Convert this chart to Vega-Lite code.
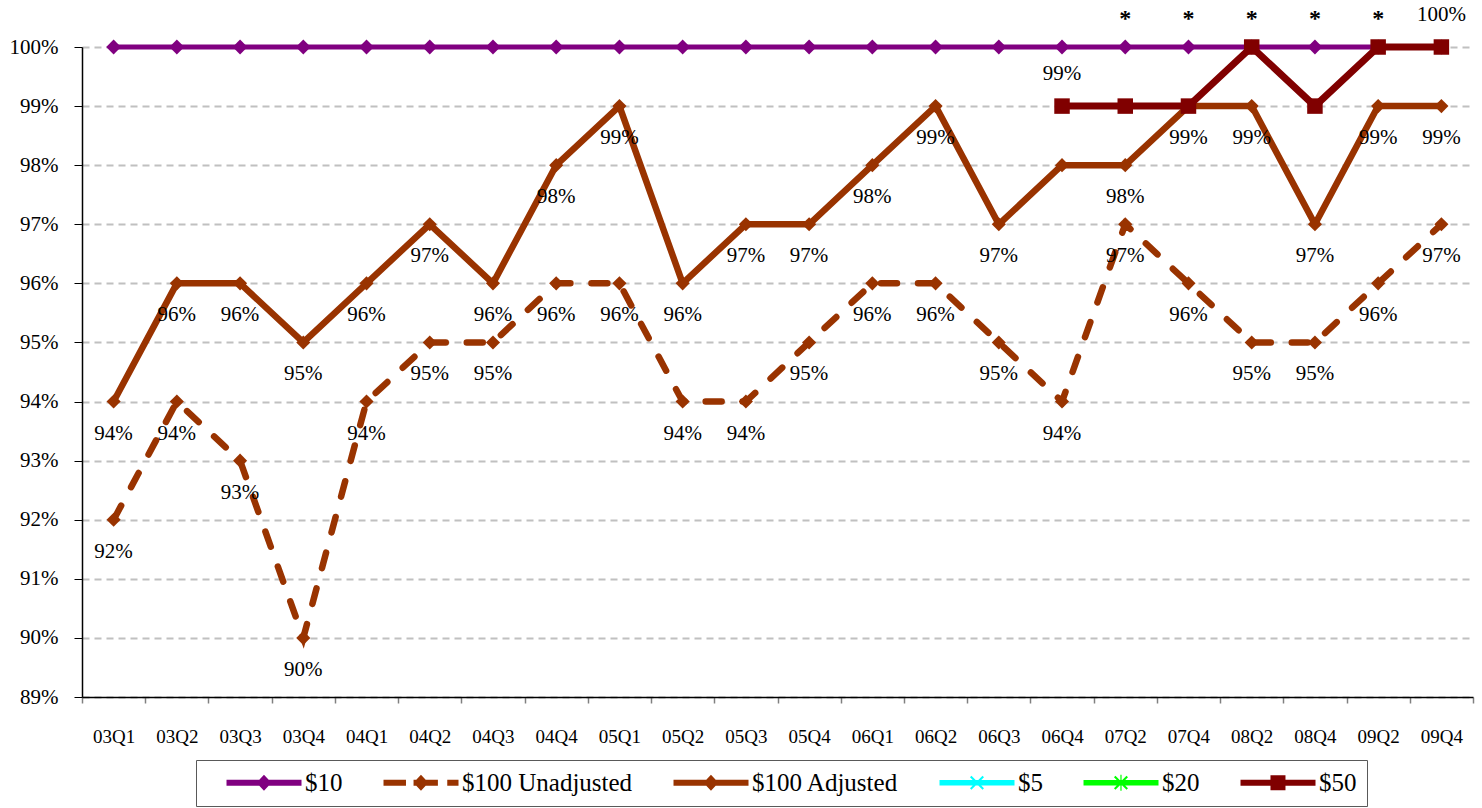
{
  "$schema": "https://vega.github.io/schema/vega-lite/v6.json",
  "width": 1391,
  "height": 650,
  "autosize": "none",
  "padding": {"left": 82, "top": 47, "right": 9, "bottom": 111},
  "background": "white",
  "config": {"font": "Liberation Serif", "view": {"stroke": null}},
  "data": {"values": [
    {"q":"03Q1","s":"$10","v":1,"t":""},{"q":"03Q2","s":"$10","v":1,"t":""},{"q":"03Q3","s":"$10","v":1,"t":""},{"q":"03Q4","s":"$10","v":1,"t":""},
    {"q":"04Q1","s":"$10","v":1,"t":""},{"q":"04Q2","s":"$10","v":1,"t":""},{"q":"04Q3","s":"$10","v":1,"t":""},{"q":"04Q4","s":"$10","v":1,"t":""},
    {"q":"05Q1","s":"$10","v":1,"t":""},{"q":"05Q2","s":"$10","v":1,"t":""},{"q":"05Q3","s":"$10","v":1,"t":""},{"q":"05Q4","s":"$10","v":1,"t":""},
    {"q":"06Q1","s":"$10","v":1,"t":""},{"q":"06Q2","s":"$10","v":1,"t":""},{"q":"06Q3","s":"$10","v":1,"t":""},{"q":"06Q4","s":"$10","v":1,"t":""},
    {"q":"07Q2","s":"$10","v":1,"t":""},{"q":"07Q4","s":"$10","v":1,"t":""},{"q":"08Q2","s":"$10","v":1,"t":""},{"q":"08Q4","s":"$10","v":1,"t":""},
    {"q":"09Q2","s":"$10","v":1,"t":""},{"q":"09Q4","s":"$10","v":1,"t":""},

    {"q":"03Q1","s":"$100 Unadjusted","v":0.92,"t":"92%"},{"q":"03Q2","s":"$100 Unadjusted","v":0.94,"t":"94%"},
    {"q":"03Q3","s":"$100 Unadjusted","v":0.93,"t":"93%"},{"q":"03Q4","s":"$100 Unadjusted","v":0.90,"t":"90%"},
    {"q":"04Q1","s":"$100 Unadjusted","v":0.94,"t":"94%"},{"q":"04Q2","s":"$100 Unadjusted","v":0.95,"t":"95%"},
    {"q":"04Q3","s":"$100 Unadjusted","v":0.95,"t":"95%"},{"q":"04Q4","s":"$100 Unadjusted","v":0.96,"t":"96%"},
    {"q":"05Q1","s":"$100 Unadjusted","v":0.96,"t":"96%"},{"q":"05Q2","s":"$100 Unadjusted","v":0.94,"t":"94%"},
    {"q":"05Q3","s":"$100 Unadjusted","v":0.94,"t":"94%"},{"q":"05Q4","s":"$100 Unadjusted","v":0.95,"t":"95%"},
    {"q":"06Q1","s":"$100 Unadjusted","v":0.96,"t":"96%"},{"q":"06Q2","s":"$100 Unadjusted","v":0.96,"t":"96%"},
    {"q":"06Q3","s":"$100 Unadjusted","v":0.95,"t":"95%"},{"q":"06Q4","s":"$100 Unadjusted","v":0.94,"t":"94%"},
    {"q":"07Q2","s":"$100 Unadjusted","v":0.97,"t":"97%"},{"q":"07Q4","s":"$100 Unadjusted","v":0.96,"t":"96%"},
    {"q":"08Q2","s":"$100 Unadjusted","v":0.95,"t":"95%"},{"q":"08Q4","s":"$100 Unadjusted","v":0.95,"t":"95%"},
    {"q":"09Q2","s":"$100 Unadjusted","v":0.96,"t":"96%"},{"q":"09Q4","s":"$100 Unadjusted","v":0.97,"t":"97%"},

    {"q":"03Q1","s":"$100 Adjusted","v":0.94,"t":"94%"},{"q":"03Q2","s":"$100 Adjusted","v":0.96,"t":"96%"},
    {"q":"03Q3","s":"$100 Adjusted","v":0.96,"t":"96%"},{"q":"03Q4","s":"$100 Adjusted","v":0.95,"t":"95%"},
    {"q":"04Q1","s":"$100 Adjusted","v":0.96,"t":"96%"},{"q":"04Q2","s":"$100 Adjusted","v":0.97,"t":"97%"},
    {"q":"04Q3","s":"$100 Adjusted","v":0.96,"t":"96%"},{"q":"04Q4","s":"$100 Adjusted","v":0.98,"t":"98%"},
    {"q":"05Q1","s":"$100 Adjusted","v":0.99,"t":"99%"},{"q":"05Q2","s":"$100 Adjusted","v":0.96,"t":"96%"},
    {"q":"05Q3","s":"$100 Adjusted","v":0.97,"t":"97%"},{"q":"05Q4","s":"$100 Adjusted","v":0.97,"t":"97%"},
    {"q":"06Q1","s":"$100 Adjusted","v":0.98,"t":"98%"},{"q":"06Q2","s":"$100 Adjusted","v":0.99,"t":"99%"},
    {"q":"06Q3","s":"$100 Adjusted","v":0.97,"t":"97%"},{"q":"06Q4","s":"$100 Adjusted","v":0.98,"t":""},
    {"q":"07Q2","s":"$100 Adjusted","v":0.98,"t":"98%"},{"q":"07Q4","s":"$100 Adjusted","v":0.99,"t":"99%"},
    {"q":"08Q2","s":"$100 Adjusted","v":0.99,"t":"99%"},{"q":"08Q4","s":"$100 Adjusted","v":0.97,"t":"97%"},
    {"q":"09Q2","s":"$100 Adjusted","v":0.99,"t":"99%"},{"q":"09Q4","s":"$100 Adjusted","v":0.99,"t":"99%"},

    {"q":"06Q4","s":"$50","v":0.99,"t":"99%"},{"q":"07Q2","s":"$50","v":0.99,"t":"*"},
    {"q":"07Q4","s":"$50","v":0.99,"t":"*"},{"q":"08Q2","s":"$50","v":1,"t":"*"},
    {"q":"08Q4","s":"$50","v":0.99,"t":"*"},{"q":"09Q2","s":"$50","v":1,"t":"*"},
    {"q":"09Q4","s":"$50","v":1,"t":"100%"}
  ]},
  "encoding": {
    "x": {
      "field": "q", "type": "ordinal", "sort": null, "bandPosition": 0.5,
      "scale": {"type": "band", "paddingInner": 0, "paddingOuter": 0},
      "axis": {"title": null, "tickBand": "extent", "labelAngle": 0, "labelFontSize": 19, "labelColor": "black",
               "labelPadding": 24, "tickColor": "#808080", "tickSize": 6, "tickWidth": 1.5, "domainColor": "black", "domainWidth": 1.5, "grid": false}
    },
    "y": {
      "field": "v", "type": "quantitative",
      "scale": {"domain": [0.89, 1.0], "nice": false, "zero": false},
      "axis": {"title": null, "format": ".0%", "values": [0.89,0.90,0.91,0.92,0.93,0.94,0.95,0.96,0.97,0.98,0.99,1.0],
               "grid": true, "gridDash": [7, 5], "gridColor": "#C0C0C0", "gridWidth": 2,
               "domainColor": "black", "domainWidth": 1.5, "tickColor": "black", "tickSize": 8, "tickWidth": 1,
               "labelFontSize": 21, "labelColor": "black", "labelPadding": 16}
    },
    "color": {
      "field": "s", "type": "nominal",
      "scale": {"domain": ["$10", "$100 Unadjusted", "$100 Adjusted", "$5", "$20", "$50"],
                "range": ["#800080", "#993300", "#993300", "#00FFFF", "#00FF00", "#800000"]},
      "legend": {
        "orient": "none", "legendX": 114, "legendY": 713, "direction": "horizontal", "columns": 6,
        "title": null, "labelFontSize": 25, "labelColor": "black", "labelFont": "Liberation Serif", "labelLimit": 400,
        "symbolSize": 576, "symbolStrokeWidth": 0, "labelOffset": 74, "columnPadding": 20, "padding": 10,
        "strokeColor": "#595959", "fillColor": "white",
        "encode": {
          "symbols": {
            "update": {
              "shape": {"signal": "datum.value === '$10' || datum.value === '$100 Adjusted' ? 'M0.667,-0.25H6.917V0.25H0.667Z M3.79,-0.667L4.415,0L3.79,0.667L3.165,0Z' : datum.value === '$100 Unadjusted' ? 'M0.667,-0.25H2.54V0.25H0.667Z M3.17,-0.25H5.2V0.25H3.17Z M3.79,-0.667L4.415,0L3.79,0.667L3.165,0Z M5.98,-0.25H6.917V0.25H5.98Z' : datum.value === '$5' ? 'M0.667,-0.22H6.917V0.22H0.667Z M3.207,-0.463L3.327,-0.583L4.373,0.463L4.253,0.583Z M3.207,0.463L4.253,-0.583L4.373,-0.463L3.327,0.583Z' : datum.value === '$20' ? 'M0.667,-0.22H6.917V0.22H0.667Z M3.207,-0.463L3.327,-0.583L4.373,0.463L4.253,0.583Z M3.207,0.463L4.253,-0.583L4.373,-0.463L3.327,0.583Z M3.74,-0.67H3.84V0.67H3.74Z' : 'M0.667,-0.25H6.917V0.25H0.667Z M3.165,-0.625H4.415V0.625H3.165Z'"},
              "fill": {"signal": "scale('color', datum.value)"},
              "stroke": {"value": "transparent"},
              "strokeWidth": {"value": 0},
              "strokeDash": {"value": []},
              "opacity": {"value": 1},
              "size": {"value": 576}
            }
          }
        }
      }
    }
  },
  "layer": [
    {"transform": [{"filter": "datum.s === '$10'"}], "mark": {"type": "line", "strokeWidth": 5}},
    {"transform": [{"filter": "datum.s === '$10'"}], "mark": {"type": "point", "shape": "diamond", "filled": true, "size": 220, "opacity": 1}},
    {"transform": [{"filter": "datum.s === '$100 Unadjusted'"}], "mark": {"type": "line", "strokeWidth": 6.5, "strokeDash": [16, 21], "strokeCap": "round"}},
    {"transform": [{"filter": "datum.s === '$100 Unadjusted'"}], "mark": {"type": "point", "shape": "diamond", "filled": true, "size": 200, "opacity": 1}},
    {"transform": [{"filter": "datum.s === '$100 Adjusted'"}], "mark": {"type": "line", "strokeWidth": 6.5, "strokeCap": "round", "strokeJoin": "round"}},
    {"transform": [{"filter": "datum.s === '$100 Adjusted'"}], "mark": {"type": "point", "shape": "diamond", "filled": true, "size": 200, "opacity": 1}},
    {"transform": [{"filter": "datum.s === '$50'"}], "mark": {"type": "line", "strokeWidth": 7}},
    {"transform": [{"filter": "datum.s === '$50'"}], "mark": {"type": "point", "shape": "square", "filled": true, "size": 240, "opacity": 1}},
    {
      "transform": [{"filter": "(datum.s === '$100 Unadjusted' || datum.s === '$100 Adjusted') && datum.t !== ''"}],
      "mark": {"type": "text", "dy": 32, "fontSize": 21, "baseline": "middle"},
      "encoding": {"text": {"field": "t"}, "color": {"value": "black"}}
    },
    {
      "transform": [{"filter": "datum.s === '$50' && datum.t !== '*'"}],
      "mark": {"type": "text", "dy": -32, "fontSize": 21, "baseline": "middle"},
      "encoding": {"text": {"field": "t"}, "color": {"value": "black"}}
    },
    {
      "transform": [{"filter": "datum.t === '*'"}],
      "mark": {"type": "text", "dy": -28, "fontSize": 24, "fontWeight": "bold", "baseline": "middle"},
      "encoding": {"y": {"datum": 1}, "text": {"field": "t"}, "color": {"value": "black"}}
    }
  ]
}
